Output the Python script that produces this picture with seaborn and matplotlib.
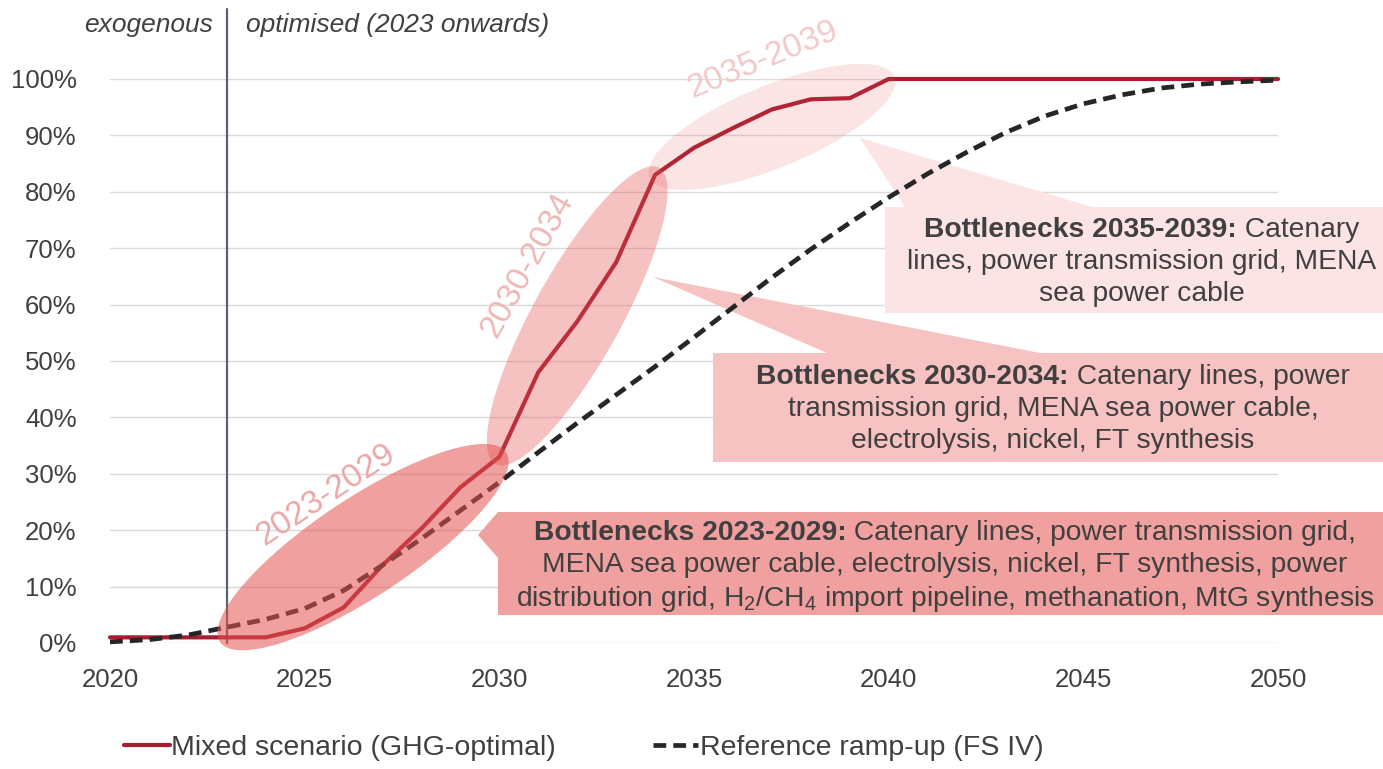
import numpy as np
import pandas as pd
import matplotlib
matplotlib.use("Agg")
import matplotlib.pyplot as plt
import seaborn as sns
from matplotlib.patches import Ellipse, Polygon
from matplotlib.transforms import IdentityTransform
from matplotlib.offsetbox import TextArea, HPacker, VPacker, AnnotationBbox

# ---------------- data ----------------
years = list(range(2020, 2051))
mixed = [1.0, 1.0, 1.0, 1.0, 1.0, 2.6, 6.3, 13.8, 20.3, 27.6,
         33.0, 48.0, 57.0, 67.5, 83.0, 87.8, 91.3, 94.6, 96.4, 96.6,
         100, 100, 100, 100, 100, 100, 100, 100, 100, 100, 100]
reference = [0.2, 0.6, 1.4, 2.8, 4.2, 6.1, 9.3, 13.8, 18.5, 23.5,
             28.5, 33.8, 39.0, 44.0, 49.0, 54.2, 59.5, 64.8, 69.8, 74.5,
             79.0, 83.2, 87.0, 90.5, 93.4, 95.6, 97.2, 98.4, 99.1, 99.5, 99.8]
series_names = ["Mixed scenario (GHG-optimal)", "Reference ramp-up (FS IV)"]
split_year = 2023
header_left = "exogenous"
header_right = "optimised (2023 onwards)"
x_ticks = list(range(2020, 2051, 5))
y_ticks = list(range(0, 101, 10))

periods = [(2023, 2030, "2023-2029"), (2030, 2034, "2030-2034"), (2034, 2040, "2035-2039")]
bottleneck_titles = ["Bottlenecks 2023-2029:", "Bottlenecks 2030-2034:", "Bottlenecks 2035-2039:"]
bottleneck_lines = [
    [" Catenary lines, power transmission grid,",
     "MENA sea power cable, electrolysis, nickel, FT synthesis, power",
     "distribution grid, H$_2$/CH$_4$ import pipeline, methanation, MtG synthesis"],
    [" Catenary lines, power",
     "transmission grid, MENA sea power cable,",
     "electrolysis, nickel, FT synthesis"],
    [" Catenary",
     "lines, power transmission grid, MENA",
     "sea power cable"],
]

df = pd.DataFrame({"year": years, "mixed": mixed, "reference": reference})

# ---------------- style ----------------
sns.set_theme(style="white")
plt.rcParams["font.family"] = ["Liberation Sans", "DejaVu Sans"]
plt.rcParams["mathtext.fontset"] = "custom"
plt.rcParams["mathtext.rm"] = "Liberation Sans"
plt.rcParams["mathtext.it"] = "Liberation Sans:italic"
plt.rcParams["mathtext.bf"] = "Liberation Sans:bold"

TXT = "#404040"
RED = "#a81d30"
W, H = 1383, 769

fig = plt.figure(figsize=(W / 100, H / 100), dpi=100)
ax = fig.add_axes([110 / W, 1 - 643 / H, (1278 - 110) / W, (643 - 79) / H])
ax.set_xlim(2020, 2050)
ax.set_ylim(0, 100)

sns.lineplot(data=df, x="year", y="mixed", ax=ax, color=RED, lw=3.0,
             label=series_names[0], clip_on=False, zorder=3)
sns.lineplot(data=df, x="year", y="reference", ax=ax, color="#262626", lw=3.4,
             linestyle=(0, (2.7, 1.5)), label=series_names[1], clip_on=False, zorder=3.1)

# split between exogenous and optimised years
ax.plot([split_year, split_year], [0, 112.5], color="#5b616d", lw=1.6,
        clip_on=False, zorder=2.5)
ax.annotate(header_left, (split_year, 109.6), xytext=(-10, 0), textcoords="offset points",
            ha="right", va="center", fontsize=19, style="italic", color=TXT,
            annotation_clip=False)
ax.annotate(header_right, (split_year, 109.6), xytext=(14, 0), textcoords="offset points",
            ha="left", va="center", fontsize=19, style="italic", color=TXT,
            annotation_clip=False)

# axes styling
ax.set_xticks(x_ticks)
ax.set_yticks(y_ticks)
ax.set_yticklabels([f"{v}%" for v in y_ticks])
ax.tick_params(axis="both", length=0, labelsize=18.5, labelcolor=TXT)
ax.tick_params(axis="y", pad=24)
ax.tick_params(axis="x", pad=18)
ax.set_xlabel("")
ax.set_ylabel("")
ax.grid(axis="y", color="#dadada", lw=1.0)
ax.grid(axis="x", visible=False)
ax.set_axisbelow(True)
for s in ax.spines.values():
    s.set_visible(False)

# ---------------- callout boxes (figure pixels, top-left origin) ----------------
box_colors = ["#f0a09e", "#f6c2c2", "#fce4e4"]
box_shapes = [
    [(498, 512), (W + 5, 512), (W + 5, 615), (498, 615), (498, 558), (478, 535)],
    [(713, 353), (827, 353), (653, 277), (1040, 353), (W + 5, 353), (W + 5, 462), (713, 462)],
    [(885, 207), (905, 207), (860, 138), (1092, 207), (W + 5, 207), (W + 5, 313), (885, 313)],
]
text_centers = [(945, 567), (1053, 409), (1142, 262)]

for shape, col in zip(box_shapes, box_colors):
    pts = [(x, H - y) for x, y in shape]
    ax.add_patch(Polygon(pts, closed=True, facecolor=col, edgecolor="none",
                         transform=IdentityTransform(), clip_on=False, zorder=2))

for title, lines, (cx, cy) in zip(bottleneck_titles, bottleneck_lines, text_centers):
    tp = dict(fontsize=20.3, color=TXT)
    first = HPacker(children=[TextArea(title, textprops=dict(tp, fontweight="bold")),
                              TextArea(lines[0], textprops=tp)],
                    sep=0, pad=0, align="baseline")
    rows = [first] + [TextArea(t, textprops=tp) for t in lines[1:]]
    pack = VPacker(children=rows, sep=4.5, pad=0, align="center")
    ab = AnnotationBbox(pack, (cx, H - cy), xycoords="figure pixels",
                        frameon=False, box_alignment=(0.5, 0.5), zorder=6,
                        annotation_clip=False)
    ax.add_artist(ab)

# ---------------- period ellipses ----------------
ell_alphas = [0.55, 0.35, 0.15]
ell_minor = [98, 88, 82]
label_colors = ["#eca6a8", "#efb6b6", "#f4c8c8"]
label_gap = [64, 68, 66]
label_shift = [-2, 21, 17]

for (y0, y1, lab), a, mn, lc, g, sh in zip(periods, ell_alphas, ell_minor,
                                           label_colors, label_gap, label_shift):
    p0 = ax.transData.transform((y0, mixed[years.index(y0)]))
    p1 = ax.transData.transform((y1, mixed[years.index(y1)]))
    c = (p0 + p1) / 2
    d = p1 - p0
    ang = np.degrees(np.arctan2(d[1], d[0]))
    length = np.hypot(*d) * 1.05
    ax.add_patch(Ellipse(c, length, mn, angle=ang, facecolor="#e4524f", alpha=a,
                         lw=0, transform=IdentityTransform(), clip_on=False, zorder=4))
    r = np.radians(ang)
    n = np.array([-np.sin(r), np.cos(r)])
    t = np.array([np.cos(r), np.sin(r)])
    lp = c + n * g + t * sh
    ax.text(lp[0], lp[1], lab, transform=IdentityTransform(), rotation=ang,
            rotation_mode="anchor", ha="center", va="center", fontsize=24,
            color=lc, zorder=5, clip_on=False)

# ---------------- legend ----------------
handles, labels = ax.get_legend_handles_labels()
leg = ax.legend(handles, labels, loc="center left", bbox_to_anchor=(124 / W, 1 - 748 / H),
                bbox_transform=fig.transFigure, ncol=2, frameon=False, fontsize=20.5,
                handlelength=1.6, handletextpad=0.05, columnspacing=3.4,
                borderaxespad=0, borderpad=0)
for txt in leg.get_texts():
    txt.set_color(TXT)

fig.savefig("out.png", dpi=100)
